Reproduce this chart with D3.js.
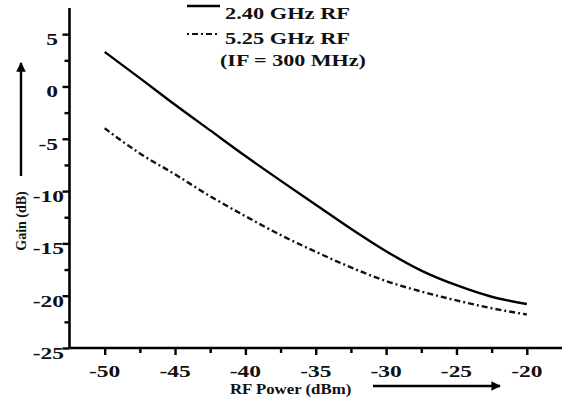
<!DOCTYPE html>
<html><head><meta charset="utf-8">
<script src="https://cdn.jsdelivr.net/npm/d3@7"></script>
<style>body{margin:0;background:#fff}svg{display:block}</style>
</head><body><svg id="c" width="567" height="401"></svg>
<script>
const rfPower = [-50,-47.5,-45,-42.5,-40,-37.5,-35,-32.5,-30,-27.5,-25,-22.5,-20];
const gain240 = [3.3,0.8,-1.75,-4.2,-6.65,-9.0,-11.3,-13.6,-15.75,-17.6,-19.0,-20.1,-20.8];
const gain525 = [-4.0,-6.4,-8.4,-10.5,-12.4,-14.2,-15.8,-17.3,-18.6,-19.6,-20.45,-21.2,-21.8];
const xTicks = [-50,-45,-40,-35,-30,-25,-20];
const xMinor = [-47.5,-42.5,-37.5,-32.5,-27.5,-22.5];
const yTicks = [5,0,-5,-10,-15,-20,-25];
const yMinor = [2.5,-2.5,-7.5,-12.5,-17.5,-22.5];
const legendLabels = ["2.40 GHz RF","5.25 GHz RF","(IF = 300 MHz)"];
const xTitle = "RF Power (dBm)";
const yTitle = "Gain (dB)";

const svg = d3.select("#c");
const FONT = "'Liberation Serif','Times New Roman',serif";
const x = d3.scaleLinear().domain([-52.5,-17.5]).range([69.5,562]);
const y = d3.scaleLinear().domain([-25,7.5]).range([348,8]);

// arrowhead marker
svg.append("defs").append("marker").attr("id","ah").attr("viewBox","0 0 10 10")
  .attr("refX",9).attr("refY",5).attr("markerWidth",4).attr("markerHeight",4)
  .attr("orient","auto").append("path").attr("d","M0,0L10,5L0,10Z").attr("fill","#000");

// axes
const gx = svg.append("g").attr("transform","translate(0,348)")
  .call(d3.axisBottom(x).tickValues(xTicks).tickSize(7).tickFormat(""));
gx.append("g").call(d3.axisBottom(x).tickValues(xMinor).tickSize(5).tickFormat(""));
const gy = svg.append("g").attr("transform","translate(69.5,0)")
  .call(d3.axisLeft(y).tickValues(yTicks).tickSize(7).tickFormat(""));
gy.append("g").call(d3.axisLeft(y).tickValues(yMinor).tickSize(5).tickFormat(""));
svg.selectAll(".domain").attr("stroke","#000").attr("stroke-width",2.6);
svg.selectAll(".tick line").attr("stroke","#000").attr("stroke-width",2.4);
gx.select(".domain").attr("d",`M${x.range()[0]},0H${x.range()[1]}`);
gy.select(".domain").attr("d",`M0,${y.range()[1]}V${y.range()[0]}`);
gx.selectAll("g g .domain").remove();
gy.selectAll("g g .domain").remove();

function txt(s, px, py, anchor, size, sx){
  return svg.append("text").attr("transform",`translate(${px},${py}) scale(${sx},1)`)
    .attr("text-anchor",anchor).attr("font-family",FONT).attr("font-weight","bold")
    .attr("font-size",size).attr("fill","#111").text(s);
}
xTicks.forEach(v=>txt(String(v), x(v), 377, "middle", 17, 1.38));
yTicks.forEach(v=>txt(String(v), String(v).length>2 ? 64 : 58, y(v)+11, "end", 17, 1.38));

// lines
const line = d3.line().x((d,i)=>x(rfPower[i])).y(d=>y(d)).curve(d3.curveMonotoneX);
svg.append("path").datum(gain240).attr("d",line).attr("fill","none")
  .attr("stroke","#000").attr("stroke-width",2.4);
svg.append("path").datum(gain525).attr("d",line).attr("fill","none")
  .attr("stroke","#111").attr("stroke-width",2.4).attr("stroke-dasharray","6,3,2,3");

// legend
svg.append("line").attr("x1",187).attr("x2",220).attr("y1",6).attr("y2",6)
  .attr("stroke","#000").attr("stroke-width",2.4);
svg.append("line").attr("x1",187).attr("x2",220).attr("y1",34).attr("y2",34)
  .attr("stroke","#111").attr("stroke-width",2).attr("stroke-dasharray","2,3,6,3");
txt(legendLabels[0],225,19,"start",16,1.4);
txt(legendLabels[1],225,44,"start",16,1.4);
txt(legendLabels[2],220,66,"start",16,1.38);

// titles
txt(xTitle,230,394,"start",14,1.2);
svg.append("line").attr("x1",373).attr("x2",500).attr("y1",386).attr("y2",386)
  .attr("stroke","#000").attr("stroke-width",2.4).attr("marker-end","url(#ah)");
svg.append("text").attr("transform","translate(26,221) rotate(-90)")
  .attr("text-anchor","middle").attr("font-family",FONT).attr("font-weight","bold")
  .attr("font-size",14).attr("fill","#111").text(yTitle);
svg.append("line").attr("x1",21).attr("x2",21).attr("y1",176).attr("y2",63)
  .attr("stroke","#000").attr("stroke-width",2.4).attr("marker-end","url(#ah)");
</script></body></html>
